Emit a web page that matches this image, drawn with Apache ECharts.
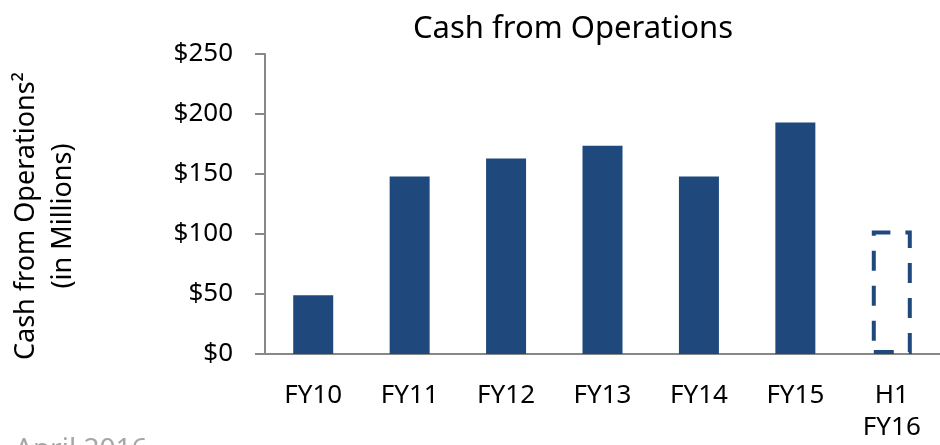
<!DOCTYPE html>
<html lang="en">
<head>
	<meta charset="UTF-8">
	<title>Cash from Operations</title>
	<script src="https://cdn.jsdelivr.net/npm/echarts@6/dist/echarts.min.js"></script>
	<style>
		html,body{width:100%;height:100%;margin:0;background:#fff;}
		#chart{width:940px;height:445px;}
	</style>
</head>
<body>
	<div id="chart"></div>
<script>
	// categories and values (in millions)
	var categories = ['FY10', 'FY11', 'FY12', 'FY13', 'FY14', 'FY15', 'H1\nFY16'];
	var cashValues = [49, 148, 163, 173.5, 148, 193, 103];
	var yTicks = [0, 50, 100, 150, 200, 250];

	var FONT = '"Noto Sans", "Open Sans", sans-serif';
	var BLUE = '#1f497d';

	function setChart() {
		var seriesData = [];
		for (var i = 0; i < cashValues.length; i++) {
			var item = { value: cashValues[i] };
			// last one is a half year, drawn as dashed outline
			if (i == cashValues.length - 1) {
				item.itemStyle = {
					color: 'rgba(0,0,0,0)',
					borderColor: BLUE,
					borderWidth: 4,
					borderType: [20, 15]
				};
			}
			seriesData.push(item);
		}

		var myChart = echarts.init(document.getElementById('chart'));
		var options = {
			animation: false,
			title: {
				text: 'Cash from Operations',
				left: 568,
				top: 9,
				textAlign: 'center',
				textStyle: { fontFamily: FONT, fontSize: 31, fontWeight: 'normal', color: '#000' }
			},
			grid: {
				left: 265,
				top: 54,
				width: 679,
				height: 300
			},
			xAxis: {
				type: 'category',
				data: categories,
				axisLine: { lineStyle: { color: '#878787', width: 2 } },
				axisTick: { length: 10, lineStyle: { color: '#878787', width: 2 } },
				axisLabel: {
					margin: 26,
					fontFamily: FONT,
					fontSize: 26,
					lineHeight: 32,
					color: '#000'
				}
			},
			yAxis: {
				type: 'value',
				min: yTicks[0],
				max: yTicks[yTicks.length - 1],
				interval: 50,
				splitLine: { show: false },
				axisLine: { show: true, lineStyle: { color: '#878787', width: 2 } },
				axisTick: { show: true, length: 10, lineStyle: { color: '#878787', width: 2 } },
				axisLabel: {
					margin: 32,
					fontFamily: FONT,
					fontSize: 26,
					color: '#000',
					formatter: '${value}'
				}
			},
			graphic: [
				{
					type: 'text', x: 26, y: 216, rotation: Math.PI / 2,
					style: { text: 'Cash from Operations²', fontFamily: FONT, fontSize: 27, fill: '#000', align: 'center', verticalAlign: 'middle' }
				},
				{
					type: 'text', x: 63, y: 216, rotation: Math.PI / 2,
					style: { text: '(in Millions)', fontFamily: FONT, fontSize: 27, fill: '#000', align: 'center', verticalAlign: 'middle' }
				},
				{
					type: 'text', x: 15, y: 436,
					style: { text: 'April 2016', fontFamily: FONT, fontSize: 28, fill: '#a6a6a6', align: 'left', verticalAlign: 'top' }
				}
			],
			series: [{
				type: 'bar',
				barWidth: 40,
				itemStyle: { color: BLUE },
				data: seriesData
			}]
		};
		myChart.setOption(options);
	}

	setChart();
</script>
</body>
</html>
